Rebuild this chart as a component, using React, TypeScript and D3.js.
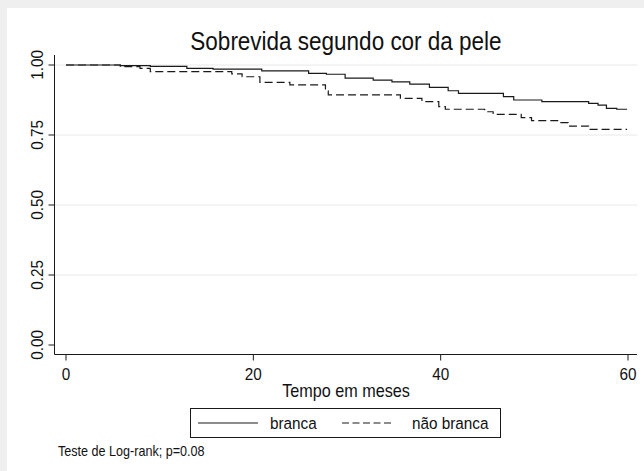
import React from "react";
import * as d3 from "d3";

const W = 644;
const H = 471;

// Kaplan-Meier steps: [month, survival]
const brancaTimes = [0, 5.8, 9.0, 12.9, 15.7, 20.9, 25.9, 27.8, 29.8, 32.8, 34.8, 36.7, 38.8, 40.8, 41.9, 46.7, 47.8, 50.8, 55.8, 56.8, 57.7, 58.8, 59.9];
const brancaSurv = [1.0, 0.9975, 0.995, 0.988, 0.985, 0.979, 0.97, 0.967, 0.953, 0.946, 0.94, 0.932, 0.92, 0.908, 0.899, 0.887, 0.875, 0.869, 0.863, 0.857, 0.845, 0.842, 0.842];

const naoBrancaTimes = [0, 5.8, 7.9, 9.0, 17.7, 18.8, 20.7, 23.9, 27.7, 28.0, 35.7, 38.0, 39.8, 40.5, 44.7, 45.6, 48.6, 49.7, 52.6, 53.6, 55.8, 59.9];
const naoBrancaSurv = [1.0, 0.994, 0.988, 0.976, 0.968, 0.958, 0.938, 0.929, 0.908, 0.893, 0.881, 0.869, 0.851, 0.842, 0.833, 0.824, 0.812, 0.801, 0.794, 0.782, 0.77, 0.77];

const xTicks = [0, 20, 40, 60];
const yTicks = [0, 0.25, 0.5, 0.75, 1.0];
const yTickLabels = ["0.00", "0.25", "0.50", "0.75", "1.00"];
const gridValues = [0.25, 0.5, 0.75, 1.0];

const titleText = "Sobrevida segundo cor da pele";
const xTitle = "Tempo em meses";
const legendLabels = ["branca", "não branca"];
const noteText = "Teste de Log-rank; p=0.08";

const FONT = "'Liberation Sans', Arial, Helvetica, sans-serif";
const SX = 0.9;

export default function App() {
  const x = d3.scaleLinear().domain([0, 60]).range([66, 628]);
  const y = d3.scaleLinear().domain([0, 1]).range([345, 65]);

  const line = d3
    .line<[number, number]>()
    .x((d) => x(d[0]))
    .y((d) => y(d[1]))
    .curve(d3.curveStepAfter);

  const brancaData: [number, number][] = brancaTimes.map((t, i) => [t, brancaSurv[i]]);
  const naoData: [number, number][] = naoBrancaTimes.map((t, i) => [t, naoBrancaSurv[i]]);

  const axisLeft = 54.5;
  const axisBottom = 354.5;
  const plotRight = 637;

  return (
    <div style={{ position: "absolute", left: 0, top: 0 }}>
      <svg width={W} height={H} style={{ display: "block" }} fontFamily={FONT}>
        <rect x={0} y={0} width={W} height={H} fill="#efefef" />
        <rect x={7} y={8} width={W - 7} height={H - 8} fill="#ffffff" />

        {/* gridlines */}
        {gridValues.map((v) => (
          <line key={v} x1={axisLeft} x2={plotRight} y1={y(v)} y2={y(v)} stroke="#e8e8e8" strokeWidth={1} />
        ))}

        {/* curves */}
        <path d={line(brancaData) || ""} fill="none" stroke="#1a1a1a" strokeWidth={1.2} />
        <path d={line(naoData) || ""} fill="none" stroke="#1a1a1a" strokeWidth={1.2} strokeDasharray="8,4" />

        {/* axes */}
        <line x1={axisLeft} x2={axisLeft} y1={55} y2={axisBottom} stroke="#1a1a1a" strokeWidth={1} />
        <line x1={axisLeft} x2={plotRight} y1={axisBottom} y2={axisBottom} stroke="#1a1a1a" strokeWidth={1} />

        {yTicks.map((v, i) => (
          <g key={v}>
            <line x1={axisLeft - 6} x2={axisLeft} y1={y(v)} y2={y(v)} stroke="#1a1a1a" strokeWidth={1} />
            <text
              transform={`translate(43,${y(v)}) rotate(-90) scale(${SX},1)`}
              textAnchor="middle"
              fontSize={17}
              fill="#111"
            >
              {yTickLabels[i]}
            </text>
          </g>
        ))}

        {xTicks.map((v) => (
          <g key={v}>
            <line x1={x(v)} x2={x(v)} y1={axisBottom} y2={axisBottom + 6} stroke="#1a1a1a" strokeWidth={1} />
            <text
              transform={`translate(${x(v)},380) scale(${SX},1)`}
              textAnchor="middle"
              fontSize={17}
              fill="#111"
            >
              {v}
            </text>
          </g>
        ))}

        {/* titles */}
        <text transform={`translate(346,50) scale(${SX},1)`} textAnchor="middle" fontSize={25} fill="#111">
          {titleText}
        </text>
        <text transform={`translate(346,397) scale(${SX},1)`} textAnchor="middle" fontSize={18} fill="#111">
          {xTitle}
        </text>

        {/* legend */}
        <rect x={190.5} y={408.5} width={310} height={29} fill="#fff" stroke="#1a1a1a" strokeWidth={1} />
        <line x1={198} x2={258} y1={423} y2={423} stroke="#1a1a1a" strokeWidth={1.2} />
        <text transform={`translate(270,429) scale(${SX},1)`} fontSize={17} fill="#111">
          {legendLabels[0]}
        </text>
        <line x1={342} x2={394} y1={423} y2={423} stroke="#1a1a1a" strokeWidth={1.2} strokeDasharray="7,3.5" />
        <text transform={`translate(412,429) scale(${SX},1)`} fontSize={17} fill="#111">
          {legendLabels[1]}
        </text>

        {/* note */}
        <text transform={`translate(58,456) scale(${SX},1)`} fontSize={14} fill="#111">
          {noteText}
        </text>
      </svg>
    </div>
  );
}
